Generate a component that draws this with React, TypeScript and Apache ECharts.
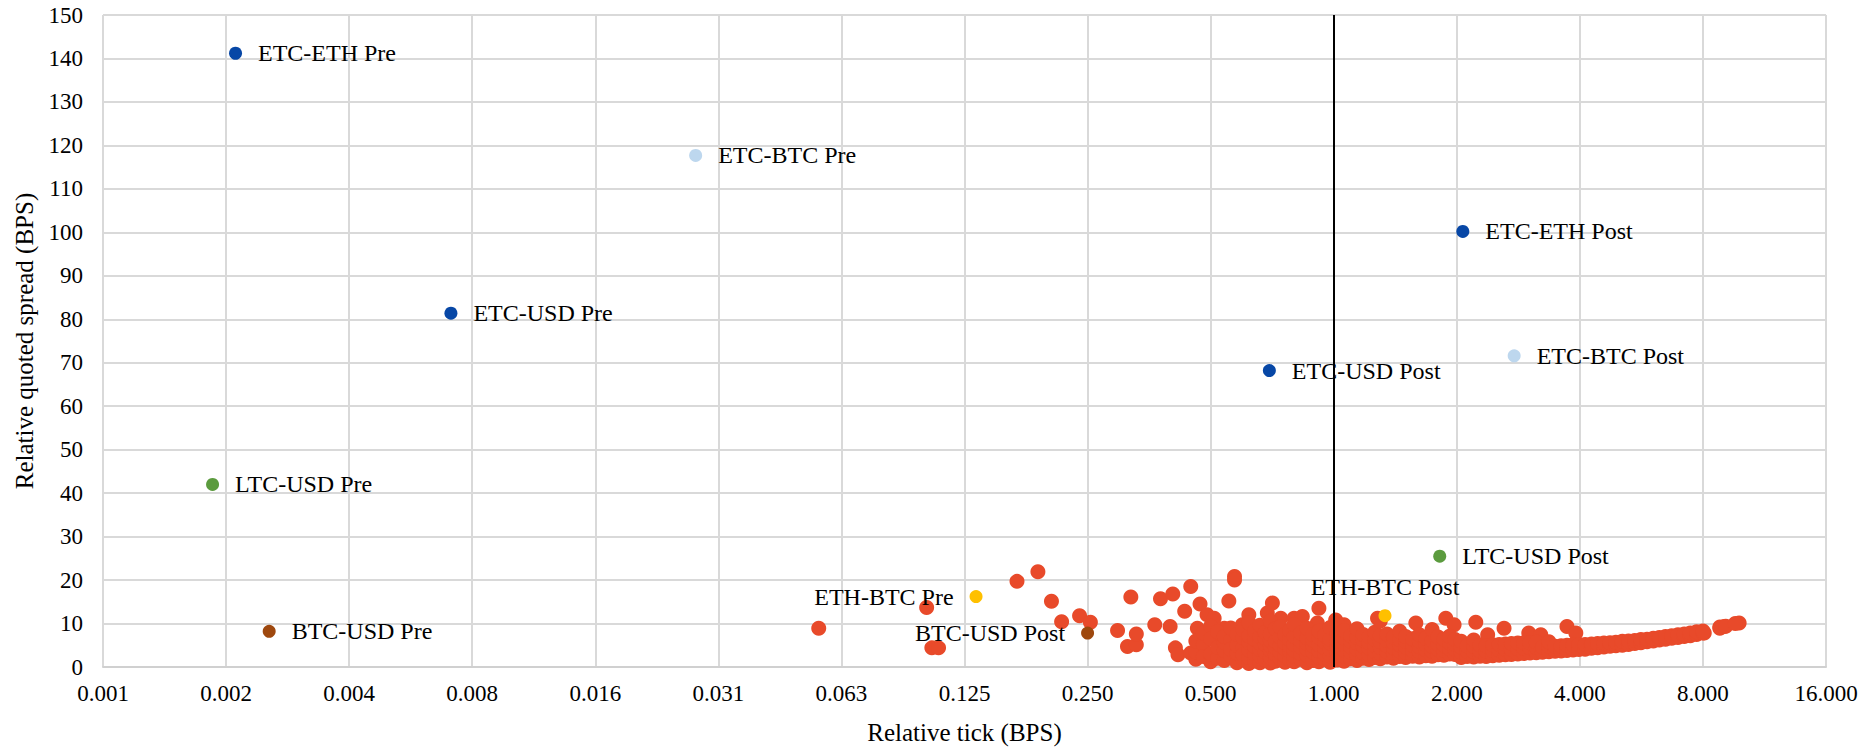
import React, { useEffect, useRef } from 'react';
import * as echarts from 'echarts';

// Labelled market pairs (Pre / Post tick-size change)
const pairNames = [
  'ETC-ETH Pre', 'ETC-BTC Pre', 'ETC-USD Pre', 'LTC-USD Pre', 'BTC-USD Pre', 'ETH-BTC Pre',
  'BTC-USD Post', 'ETH-BTC Post', 'LTC-USD Post', 'ETC-USD Post', 'ETC-ETH Post', 'ETC-BTC Post',
];
const pairTick = [0.00206, 0.0275, 0.00693, 0.00181, 0.00249, 0.1334, 0.25, 1.335, 1.817, 0.696, 2.069, 2.763];
const pairSpread = [141.2, 117.7, 81.4, 42.0, 8.2, 16.2, 7.8, 11.8, 25.5, 68.2, 100.2, 71.6];

// Other markets: [relative tick, relative quoted spread]
const sparseMarkets: [number, number][] = [
  [0.055, 8.9], [0.101, 13.7], [0.104, 4.4], [0.108, 4.4], [0.168, 19.7], [0.189, 21.9],
  [0.204, 15.1], [0.216, 10.4], [0.239, 11.8], [0.254, 10.3], [0.296, 8.4], [0.319, 16.1],
  [0.313, 4.7], [0.329, 5.1], [0.329, 7.6], [0.365, 9.7], [0.377, 15.7], [0.404, 16.8],
  [0.398, 9.3], [0.432, 12.8], [0.447, 18.5], [0.41, 4.4], [0.416, 2.8], [0.447, 3.2],
  [0.471, 14.5], [0.464, 8.9], [0.49, 12.0], [0.51, 11.2], [0.49, 2.8], [0.554, 15.2],
  [0.572, 20.8], [0.572, 20.0], [0.54, 8.9], [0.598, 9.7], [0.62, 12.0], [0.688, 12.4],
  [0.708, 14.7], [0.742, 11.2], [0.8, 11.2], [0.838, 11.6], [0.92, 13.5], [0.912, 10.1],
  [1.011, 10.8], [1.06, 9.7], [1.28, 11.2], [1.588, 10.1], [1.88, 11.2], [1.97, 9.7],
  [2.226, 10.3], [2.61, 8.9], [2.38, 7.4], [3.0, 7.8], [3.21, 7.4], [3.72, 9.3],
  [3.91, 7.8], [8.06, 7.8], [9.02, 9.3], [9.81, 10.1],
];

const denseMarkets: [number, number][] = [
  [0.46, 1.8], [0.46, 3.5], [0.46, 6.0],
  [0.48, 5.2], [0.48, 7.8], [0.48, 2.4],
  [0.5, 1.2], [0.5, 3.0], [0.5, 9.4], [0.5, 6.5],
  [0.52, 2.0], [0.52, 4.5], [0.52, 8.1],
  [0.54, 1.5], [0.54, 3.8], [0.54, 5.6], [0.54, 7.0],
  [0.56, 2.6], [0.56, 6.2], [0.56, 9.0], [0.56, 4.1],
  [0.58, 1.0], [0.58, 3.2], [0.58, 5.0], [0.58, 7.5],
  [0.6, 1.8], [0.6, 4.4], [0.6, 6.8], [0.6, 8.6], [0.6, 2.8],
  [0.62, 0.8], [0.62, 2.2], [0.62, 3.9], [0.62, 5.7], [0.62, 7.2], [0.62, 10.2],
  [0.64, 1.4], [0.64, 3.0], [0.64, 4.8], [0.64, 6.4], [0.64, 8.3],
  [0.66, 1.0], [0.66, 2.5], [0.66, 4.0], [0.66, 5.5], [0.66, 7.0], [0.66, 9.6],
  [0.68, 1.6], [0.68, 3.4], [0.68, 5.2], [0.68, 6.6], [0.68, 8.0],
  [0.7, 0.9], [0.7, 2.2], [0.7, 3.8], [0.7, 4.9], [0.7, 6.1], [0.7, 7.6], [0.7, 10.5],
  [0.72, 1.3], [0.72, 2.9], [0.72, 4.5], [0.72, 5.9], [0.72, 8.8],
  [0.74, 1.9], [0.74, 3.3], [0.74, 5.0], [0.74, 6.9], [0.74, 9.2],
  [0.76, 1.1], [0.76, 2.6], [0.76, 4.2], [0.76, 5.6], [0.76, 7.4],
  [0.78, 1.7], [0.78, 3.6], [0.78, 4.8], [0.78, 6.3], [0.78, 8.4],
  [0.8, 1.2], [0.8, 2.4], [0.8, 3.9], [0.8, 5.3], [0.8, 7.0], [0.8, 9.8],
  [0.83, 1.8], [0.83, 3.1], [0.83, 4.6], [0.83, 6.0], [0.83, 7.8],
  [0.86, 1.0], [0.86, 2.7], [0.86, 4.1], [0.86, 5.4], [0.86, 6.7], [0.86, 8.9],
  [0.89, 1.5], [0.89, 3.4], [0.89, 4.9], [0.89, 6.2], [0.89, 7.5],
  [0.92, 1.2], [0.92, 2.3], [0.92, 3.7], [0.92, 5.1], [0.92, 6.8], [0.92, 8.2],
  [0.95, 1.8], [0.95, 3.0], [0.95, 4.4], [0.95, 5.8], [0.95, 7.3],
  [0.98, 1.1], [0.98, 2.6], [0.98, 4.0], [0.98, 5.5], [0.98, 6.4], [0.98, 9.1],
  [1.02, 1.6], [1.02, 3.2], [1.02, 4.7], [1.02, 6.0], [1.02, 7.7], [1.02, 10.0],
  [1.06, 1.3], [1.06, 2.5], [1.06, 3.9], [1.06, 5.2], [1.06, 6.6], [1.06, 8.4],
  [1.1, 1.9], [1.1, 3.4], [1.1, 4.6], [1.1, 5.9], [1.1, 7.2],
  [1.14, 1.5], [1.14, 2.8], [1.14, 4.1], [1.14, 5.5], [1.14, 6.8], [1.14, 8.8],
  [1.18, 2.0], [1.18, 3.3], [1.18, 4.8], [1.18, 6.2], [1.18, 7.5],
  [1.22, 1.7], [1.22, 2.9], [1.22, 4.3], [1.22, 5.6], [1.22, 7.0],
  [1.26, 2.2], [1.26, 3.6], [1.26, 5.0], [1.26, 6.4], [1.26, 8.0],
  [1.3, 1.9], [1.3, 3.1], [1.3, 4.5], [1.3, 5.8], [1.3, 7.2], [1.3, 10.6],
  [1.35, 2.3], [1.35, 3.5], [1.35, 4.9], [1.35, 6.1], [1.35, 7.6],
  [1.4, 2.0], [1.4, 3.2], [1.4, 4.4], [1.4, 5.7], [1.4, 6.9],
  [1.45, 2.4], [1.45, 3.7], [1.45, 5.1], [1.45, 6.3], [1.45, 8.2],
  [1.5, 2.2], [1.5, 3.4], [1.5, 4.6], [1.5, 5.9], [1.5, 7.0],
  [1.56, 2.5], [1.56, 3.8], [1.56, 5.0], [1.56, 6.5],
  [1.62, 2.3], [1.62, 3.5], [1.62, 4.7], [1.62, 6.0], [1.62, 7.4],
  [1.68, 2.6], [1.68, 3.9], [1.68, 5.2], [1.68, 6.6],
  [1.74, 2.5], [1.74, 3.6], [1.74, 4.8], [1.74, 6.1], [1.74, 8.6],
  [1.8, 2.8], [1.8, 4.0], [1.8, 5.3], [1.8, 6.9],
  [1.86, 2.7], [1.86, 3.8], [1.86, 5.0], [1.86, 6.4],
  [1.92, 3.0], [1.92, 4.2], [1.92, 5.6], [1.92, 7.1],
  [1.98, 2.9], [1.98, 4.0], [1.98, 5.2], [1.98, 6.3],
  [2.05, 2.2], [2.05, 3.4], [2.05, 4.6], [2.05, 5.9],
  [2.12, 2.4], [2.12, 3.6], [2.12, 4.9],
  [2.2, 2.3], [2.2, 3.5], [2.2, 4.8], [2.2, 6.2],
  [2.28, 2.5], [2.28, 3.7], [2.28, 5.0],
  [2.36, 2.4], [2.36, 3.6], [2.36, 4.9],
  [2.45, 2.6], [2.45, 3.8], [2.45, 5.1],
  [2.54, 2.7], [2.54, 3.9], [2.54, 5.2],
  [2.63, 2.8], [2.63, 4.0], [2.63, 5.3],
  [2.72, 2.9], [2.72, 4.1], [2.72, 5.4],
  [2.82, 3.0], [2.82, 4.2], [2.82, 5.5],
  [2.92, 3.1], [2.92, 4.3], [2.92, 5.6],
  [3.02, 3.2], [3.02, 4.4], [3.02, 5.6],
  [3.13, 3.3], [3.13, 4.5], [3.13, 5.7],
  [3.24, 3.4], [3.24, 4.6],
  [3.36, 3.5], [3.36, 4.7], [3.36, 5.8],
  [3.48, 3.6], [3.48, 4.8],
  [3.6, 3.7], [3.6, 4.9],
  [3.72, 3.8], [3.72, 5.0],
  [3.85, 3.9], [3.85, 5.1],
  [3.98, 4.0], [3.98, 5.2],
  [4.12, 4.1], [4.12, 5.2],
  [4.27, 4.3], [4.27, 5.3],
  [4.42, 4.4], [4.42, 5.4],
  [4.58, 4.6], [4.58, 5.5],
  [4.74, 4.8], [4.74, 5.6],
  [4.9, 4.9], [4.9, 5.7],
  [5.08, 5.0], [5.08, 5.9],
  [5.26, 5.2], [5.26, 6.0],
  [5.45, 5.4], [5.45, 6.1],
  [5.64, 5.6], [5.64, 6.3],
  [5.84, 5.8], [5.84, 6.4],
  [6.05, 6.0], [6.05, 6.6],
  [6.26, 6.2], [6.26, 6.8],
  [6.48, 6.4], [6.48, 7.0],
  [6.71, 6.6], [6.71, 7.2],
  [6.95, 6.8], [6.95, 7.4],
  [7.2, 7.0], [7.2, 7.6],
  [7.45, 7.2], [7.45, 7.8],
  [7.72, 7.5], [7.72, 8.1],
  [8.0, 7.8], [8.0, 8.3],
  [8.8, 8.9], [8.8, 9.2],
  [9.1, 9.4], [9.6, 10.0],
];

const referenceTick = 1;

// Styles
const pairColors: Record<string, string> = {
  'ETC-ETH': '#0747A6',
  'ETC-USD': '#0747A6',
  'ETC-BTC': '#BDD7EE',
  'LTC-USD': '#5B9B3E',
  'BTC-USD': '#9E480E',
  'ETH-BTC': '#FFC000',
};
const labelPositions: Record<string, string> = {
  'ETH-BTC Pre': 'left',
  'BTC-USD Post': 'left',
  'ETH-BTC Post': 'top',
};
const FONT = "'Liberation Serif', 'Times New Roman', serif";

export default function App() {
  const ref = useRef<HTMLDivElement>(null);

  useEffect(() => {
    if (!ref.current) return;
    const chart = echarts.init(ref.current, undefined, { renderer: 'svg' });

    const namedData = pairNames.map((name, i) => {
      const key = name.split(' ')[0];
      const pos = labelPositions[name] || 'right';
      return {
        name,
        value: [pairTick[i], pairSpread[i]],
        itemStyle: { color: pairColors[key], opacity: 1 },
        label: {
          show: true,
          position: pos,
          distance: pos === 'top' ? 10 : 16,
          formatter: name,
        },
      };
    });

    chart.setOption({
      animation: false,
      backgroundColor: '#ffffff',
      textStyle: { fontFamily: FONT },
      grid: { left: 103, right: 43, top: 15, bottom: 81, containLabel: false },
      xAxis: {
        type: 'log',
        logBase: 2,
        min: Math.pow(2, -10),
        max: 16,
        interval: 1,
        name: 'Relative tick (BPS)',
        nameLocation: 'middle',
        nameGap: 53,
        nameTextStyle: { fontFamily: FONT, fontSize: 25, color: '#000' },
        axisLine: { show: true, lineStyle: { color: '#D0D0D0', width: 2 } },
        axisTick: { show: false },
        axisLabel: {
          fontFamily: FONT,
          fontSize: 23,
          color: '#000',
          margin: 15,
          formatter: (v: number) => v.toFixed(3),
        },
        splitLine: { show: true, lineStyle: { color: '#D9D9D9', width: 2 } },
      },
      yAxis: {
        type: 'value',
        min: 0,
        max: 150,
        interval: 10,
        name: 'Relative quoted spread (BPS)',
        nameLocation: 'middle',
        nameGap: 66,
        nameTextStyle: { fontFamily: FONT, fontSize: 25, color: '#000' },
        axisLine: { show: false },
        axisTick: { show: false },
        axisLabel: { fontFamily: FONT, fontSize: 23, color: '#000', margin: 20 },
        splitLine: { show: true, lineStyle: { color: '#D9D9D9', width: 2 } },
      },
      series: [
        {
          type: 'scatter',
          name: 'Other markets',
          symbol: 'circle',
          symbolSize: 15,
          itemStyle: { color: '#E84A2A', opacity: 1 },
          data: [...sparseMarkets, ...denseMarkets],
          z: 2,
          markLine: {
            silent: true,
            symbol: ['none', 'none'],
            label: { show: false },
            lineStyle: { color: '#000000', width: 2, type: 'solid' },
            data: [{ xAxis: referenceTick }],
          },
        },
        {
          type: 'scatter',
          name: 'Pairs',
          symbol: 'circle',
          symbolSize: 13,
          z: 5,
          itemStyle: { opacity: 1 },
          label: {
            fontFamily: FONT,
            fontSize: 24,
            color: '#000',
          },
          data: namedData,
        },
      ],
    });

    return () => chart.dispose();
  }, []);

  return (
    <div
      ref={ref}
      style={{ position: 'fixed', left: 0, top: 0, width: 1869, height: 750, background: '#fff' }}
    />
  );
}
